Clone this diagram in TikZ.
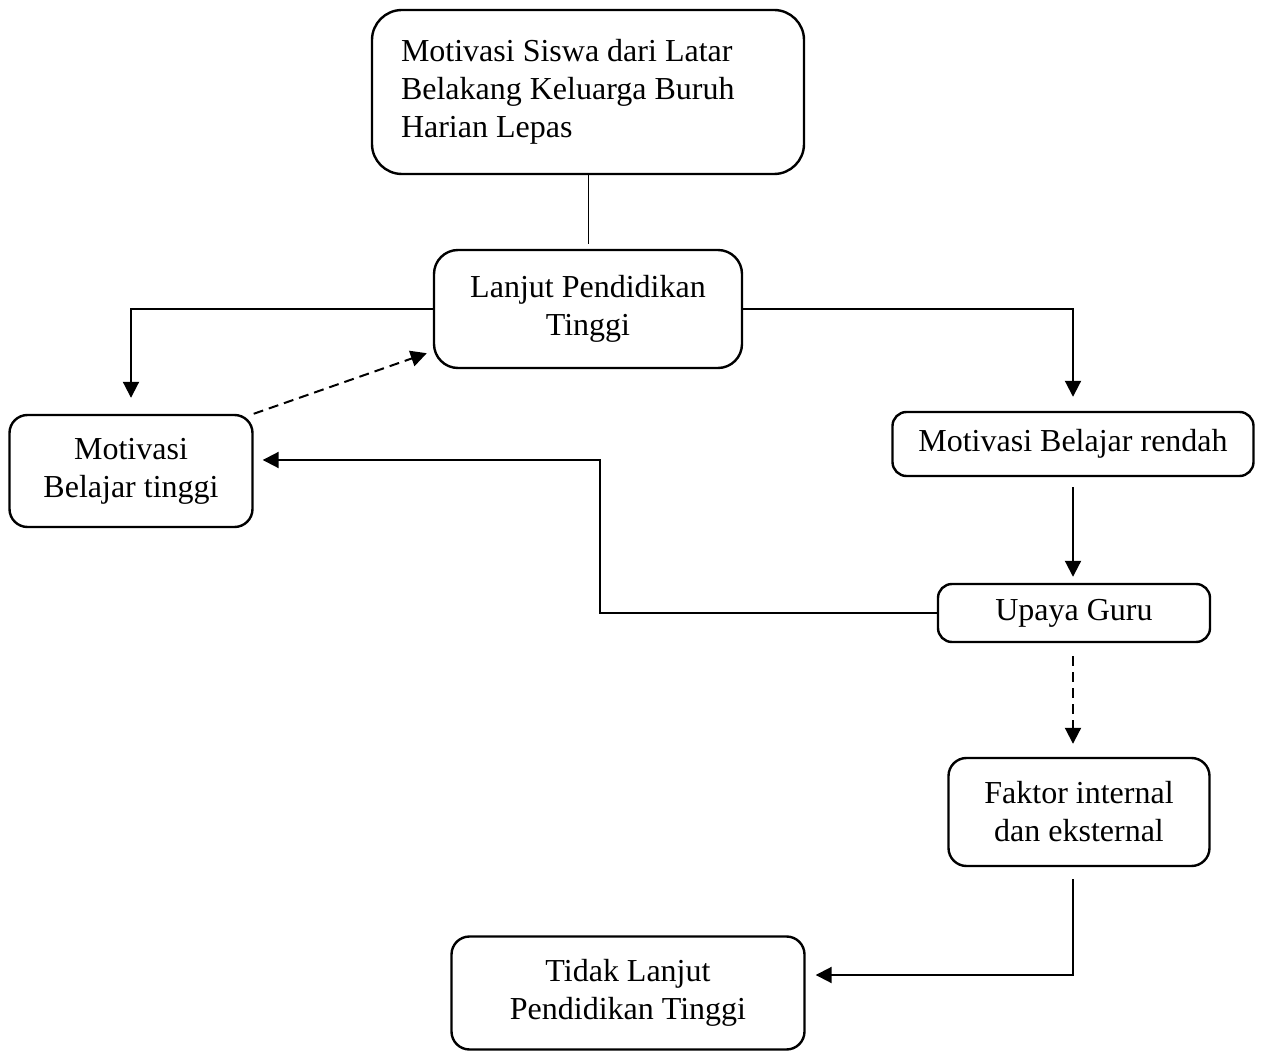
\documentclass[tikz,border=0pt]{standalone}
\usepackage{fontspec}
\setmainfont{Liberation Serif}
\usetikzlibrary{arrows.meta,calc}

\begin{document}
\begin{tikzpicture}[x=0.5pt,y=-0.5pt,
  box/.style = {shape=rectangle, rounded corners=9pt, draw, line width=1.2pt,
    align=center, font=\fontsize{16}{19}\selectfont},
  link/.style = {line width=1pt},
  arr/.style = {link, -{Triangle[length=8pt,width=8pt]}},
  dashline/.style = {dash pattern=on 5pt off 3pt}]
  \useasboundingbox (0,0) rectangle (1264,1053);
  \node[box, rounded corners=15pt, align=flush left, text width=187pt, inner xsep=14.5pt,
    minimum height=82pt] (siswa) at (588,92)
    {Motivasi Siswa dari Latar\\ Belakang Keluarga Buruh\\ Harian Lepas};
  \node[box, rounded corners=12pt, minimum width=154pt, minimum height=59pt] (lanjut) at (588,309)
    {Lanjut Pendidikan\\ Tinggi};
  \node[box, minimum width=121.5pt, minimum height=56pt] (tinggi) at (131,471)
    {Motivasi\\ Belajar tinggi};
  \node[box, rounded corners=7pt, minimum width=180.5pt, minimum height=32pt] (rendah) at (1073,444)
    {Motivasi Belajar rendah};
  \node[box, rounded corners=7pt, minimum width=136pt, minimum height=29pt] (guru) at (1074,613)
    {Upaya Guru};
  \node[box, minimum width=130.5pt, minimum height=54pt] (faktor) at (1079,812)
    {Faktor internal\\ dan eksternal};
  \node[box, minimum width=176.5pt, minimum height=56.5pt] (tidak) at (628,993)
    {Tidak Lanjut\\ Pendidikan Tinggi};
  \coordinate (bend) at (600,460);
  \coordinate (turn) at (1073,975);

  \draw[line width=0.5pt, shorten >=2.5pt] (siswa) -- (lanjut.north);
  \draw[arr, shorten >=8pt] (lanjut.west) -| (tinggi.north);
  \draw[arr, shorten >=7pt] (lanjut.east) -| (rendah.north);
  \draw[arr, dashline] (tinggi.north east) -- ([xshift=-3pt,yshift=8pt]lanjut.south west);
  \draw[arr, shorten <=5pt, shorten >=3pt] (rendah.south) -- (rendah.south |- guru.north);
  \draw[arr, shorten >=4.5pt] (guru.west) -| (bend) -- (tinggi.east |- bend);
  \draw[arr, dashline, shorten <=6.5pt, shorten >=6.5pt] (guru.south -| turn) -- (faktor.north -| turn);
  \draw[arr, shorten <=6pt, shorten >=5pt] (faktor.south -| turn) -- (turn) -- (tidak.east |- turn);
\end{tikzpicture}
\end{document}
